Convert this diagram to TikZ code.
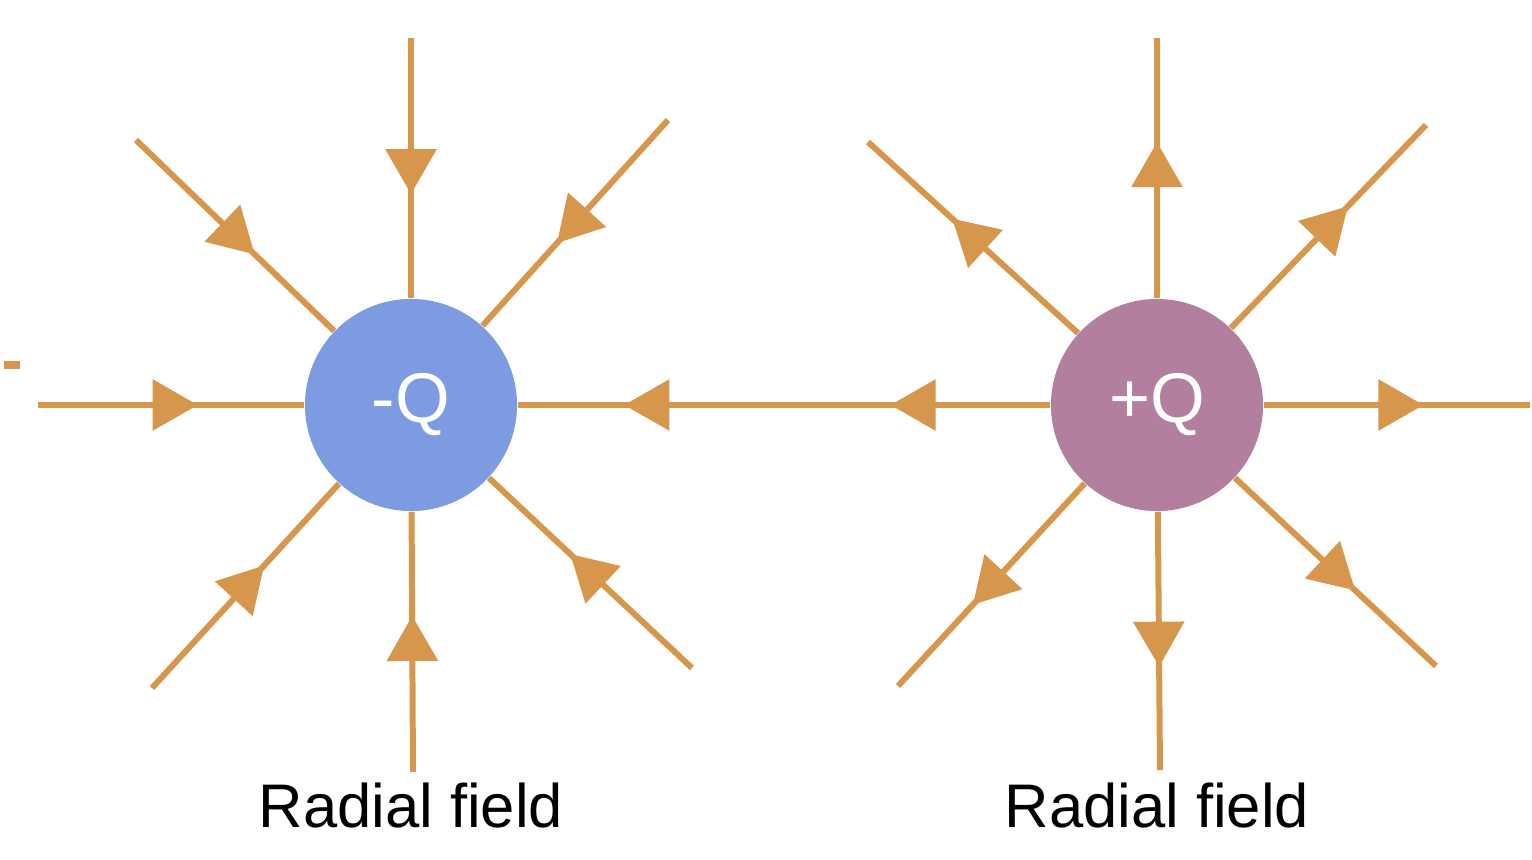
\documentclass[tikz,border=0pt]{standalone}
\usepackage{fontspec}
\setmainfont{Liberation Sans}
\usetikzlibrary{decorations.markings,arrows.meta}
\definecolor{fld}{RGB}{214,150,76}
\definecolor{negc}{RGB}{125,155,225}
\definecolor{posc}{RGB}{178,128,158}
\tikzset{
 x=0.01cm,y=-0.01cm,
 fline/.style={draw=fld,line width=1.7pt,postaction={decorate},
   decoration={markings,mark=at position #1 with {\arrow{Triangle[length=0.45cm,width=0.5cm]}}}},
 fline/.default=0.6,
 charge/.style={circle,minimum size=2.12cm,inner sep=0pt,text=white,font=\fontsize{20}{20}\selectfont},
 lbl/.style={font=\fontsize{17.5}{18}\selectfont,text=black}
}
\begin{document}
\begin{tikzpicture}
\useasboundingbox (0,0) rectangle (1532,860);
\node[charge,fill=negc] (n) at (411,405) {-Q};
\node[charge,fill=posc] (p) at (1157,405) {+Q};
\coordinate (a1) at (411,38);
\coordinate (a2) at (136,140);
\coordinate (a3) at (668,120);
\coordinate (a4) at (38,405);
\coordinate (a5) at (152,688);
\coordinate (a6) at (413,772);
\coordinate (a7) at (692,668);
\foreach \c in {a1,a2,a3,a4,a5,a6,a7} \draw[fline] (\c) -- (n);
\coordinate (b1) at (1157,38);
\coordinate (b2) at (868,142);
\coordinate (b3) at (1426,125);
\coordinate (b4) at (1530,405);
\coordinate (b5) at (898,686);
\coordinate (b6) at (1160,770);
\coordinate (b7) at (1436,666);
\foreach \c in {b1,b2,b3,b4,b5,b6,b7} \draw[fline] (p) -- (\c);
\draw[draw=fld,line width=1.7pt,postaction={decorate},
  decoration={markings,
   mark=at position 0.3 with {\arrow{Triangle[length=0.45cm,width=0.5cm]}},
   mark=at position 0.8 with {\arrow{Triangle[length=0.45cm,width=0.5cm]}}}] (p) -- (n);
\coordinate (d1) at (4,365);
\coordinate (d2) at (20,365);
\draw[fld,line width=2.2pt] (d1) -- (d2);
\node[lbl] (l1) at (411,805) {Radial field};
\node[lbl] (l2) at (1157,805) {Radial field};
\end{tikzpicture}
\end{document}
